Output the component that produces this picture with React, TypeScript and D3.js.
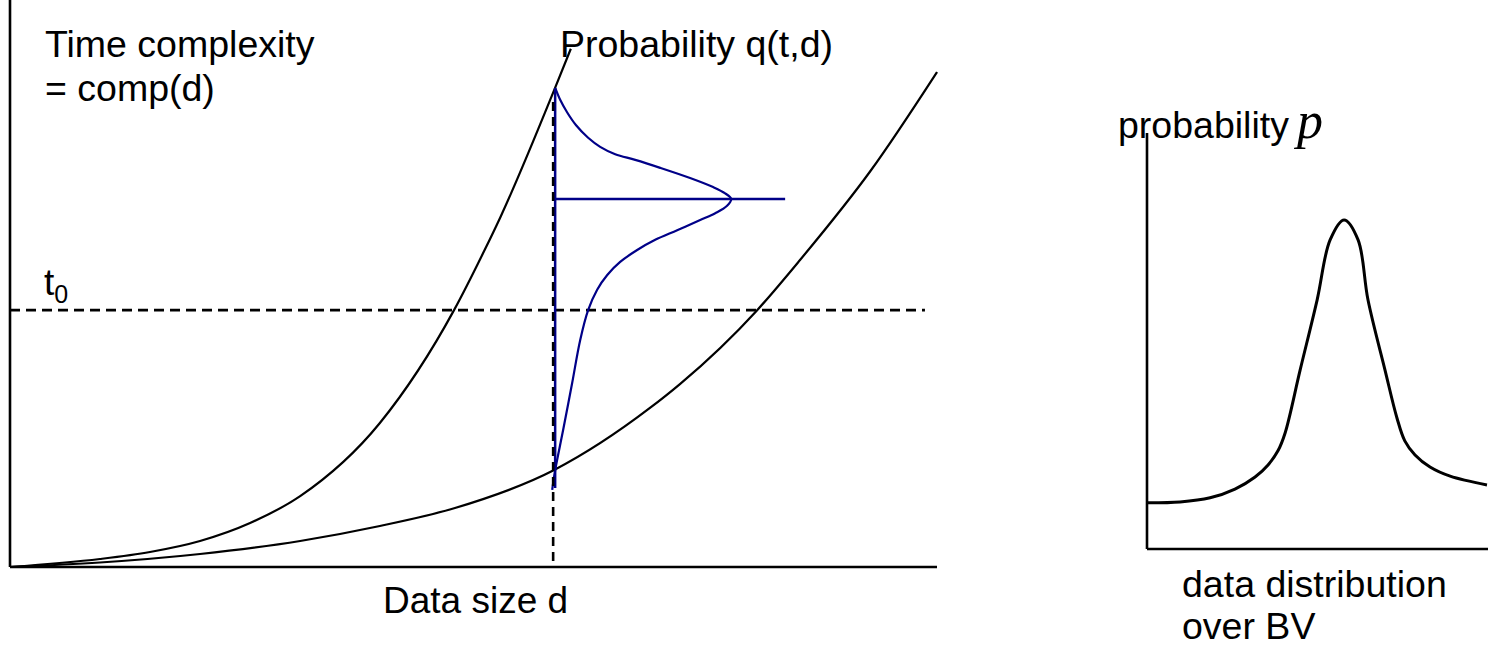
import React from "react";
import * as d3 from "d3";

// ---- Left chart: time complexity vs data size (abstract units 0..100) ----
const steepCurveX = [0, 9.7, 15.1, 20.5, 25.9, 31.3, 39.9, 47.9, 51.2, 52.9, 58.8, 60.5];
const steepCurveY = [0, 1.41, 2.65, 4.59, 7.76, 12.5, 25.4, 45.3, 55.9, 61.7, 84.5, 91.4];

const lowerCurveX = [0, 9.7, 20.5, 31.3, 39.9, 48.0, 58.7, 69.0, 72.3, 80.6, 85.2, 92.8, 100];
const lowerCurveY = [0, 0.79, 2.29, 4.59, 7.23, 10.4, 17.1, 28.0, 32.3, 45.3, 54.1, 69.8, 87.3];

const dValue = 58.7;
const t0Value = 45.3;
const dLineTop = 82;
const t0LineEnd = 98.7;

// probability q(t,d), drawn sideways at d
const qT = [84.5, 82.4, 80.2, 77.9, 75.7, 74.1, 72.8, 71.8, 70.4, 68.6, 67.0, 65.9, 64.9, 63.7, 62.4, 61.2, 59.4, 57.7, 55.9, 53.8, 51.5, 48.9, 45.3, 40.0, 32.5, 24.2, 17.1, 13.6];
const qVal = [0.006, 0.034, 0.073, 0.124, 0.192, 0.26, 0.345, 0.458, 0.599, 0.768, 0.898, 0.966, 1.0, 0.977, 0.910, 0.825, 0.695, 0.571, 0.469, 0.373, 0.300, 0.243, 0.192, 0.147, 0.102, 0.051, 0.006, -0.011];
const qModeT = 64.9;
const qLineEnd = 1.305;

// ---- Right chart: probability p over BV ----
const distX = [0, 9.7, 18.5, 25.8, 31.7, 35.5, 38.4, 40.5, 44.9, 49.9, 53.7, 57.8, 61.9, 64.8, 69.8, 73.3, 75.6, 78.6, 83.0, 88.9, 99.7];
const distY = [11.1, 11.3, 12.3, 14.4, 17.3, 20.2, 23.6, 27.9, 43.0, 59.9, 74.3, 79.1, 74.3, 59.9, 43.0, 31.5, 26.0, 22.6, 19.7, 17.5, 15.4];

const W = 1488;
const H = 646;
const FONT = "'Liberation Sans', Arial, sans-serif";
const BLUE = "#000088";

export default function App() {
  const x = d3.scaleLinear().domain([0, 100]).range([10, 937]);
  const y = d3.scaleLinear().domain([0, 100]).range([567, 0]);
  const q = d3.scaleLinear().domain([0, 1]).range([0, 177]);

  const x2 = d3.scaleLinear().domain([0, 100]).range([1147, 1488]);
  const y2 = d3.scaleLinear().domain([0, 100]).range([549, 133]);

  const fnLine = d3
    .line<[number, number]>()
    .x((p) => p[0])
    .y((p) => p[1])
    .curve(d3.curveMonotoneX);

  const paramLine = d3
    .line<[number, number]>()
    .x((p) => p[0])
    .y((p) => p[1])
    .curve(d3.curveCatmullRom.alpha(0.5));

  const steep = fnLine(steepCurveX.map((v, i) => [x(v), y(steepCurveY[i])]));
  const lower = fnLine(lowerCurveX.map((v, i) => [x(v), y(lowerCurveY[i])]));
  const qPath = paramLine(qT.map((t, i) => [x(dValue) + q(qVal[i]), y(t)]));
  const dist = paramLine(distX.map((v, i) => [x2(v), y2(distY[i])]));

  const xd = x(dValue);

  return (
    <svg
      width={W}
      height={H}
      style={{ position: "absolute", left: 0, top: 0, background: "#fff" }}
      fontFamily={FONT}
    >
      {/* left axes */}
      <line x1={x(0)} y1={y(0)} x2={x(0)} y2={0} stroke="#000" strokeWidth={2.6} />
      <line x1={x(0)} y1={y(0)} x2={x(100)} y2={y(0)} stroke="#000" strokeWidth={2.6} />

      {/* t0 dashed line */}
      <line
        x1={x(0)}
        y1={y(t0Value)}
        x2={x(t0LineEnd)}
        y2={y(t0Value)}
        stroke="#000"
        strokeWidth={2.6}
        strokeDasharray="10 6"
      />

      {/* curves */}
      <path d={steep ?? ""} fill="none" stroke="#000" strokeWidth={2.2} />
      <path d={lower ?? ""} fill="none" stroke="#000" strokeWidth={2.2} />

      {/* blue distribution */}
      <line x1={xd + 1} y1={y(qT[0])} x2={xd + 1} y2={y(qT[qT.length - 1]) - 2} stroke={BLUE} strokeWidth={2.5} />
      <line x1={xd} y1={y(qModeT)} x2={xd + q(qLineEnd)} y2={y(qModeT)} stroke={BLUE} strokeWidth={2.5} />
      <path d={qPath ?? ""} fill="none" stroke={BLUE} strokeWidth={2.2} />

      {/* d dashed vertical */}
      <line
        x1={xd - 1}
        y1={y(dLineTop)}
        x2={xd - 1}
        y2={y(0)}
        stroke="#000"
        strokeWidth={2.6}
        strokeDasharray="9 6"
      />

      {/* left texts */}
      <text x={45} y={57} fontSize={37.5}>Time complexity</text>
      <text x={45} y={101} fontSize={37.5}>= comp(d)</text>
      <text x={560} y={57} fontSize={37.5}>Probability q(t,d)</text>
      <text x={44} y={295} fontSize={37}>
        t<tspan fontSize={25} dy={8}>0</tspan>
      </text>
      <text x={383} y={613} fontSize={37}>Data size d</text>

      {/* right axes */}
      <line x1={x2(0)} y1={y2(0)} x2={x2(0)} y2={y2(100)} stroke="#000" strokeWidth={2.6} />
      <line x1={x2(0)} y1={y2(0)} x2={x2(100)} y2={y2(0)} stroke="#000" strokeWidth={2.6} />
      <path d={dist ?? ""} fill="none" stroke="#000" strokeWidth={3} />

      {/* right texts */}
      <text x={1118} y={138} fontSize={37.5}>
        probability
        <tspan fontFamily="'Liberation Serif', 'Times New Roman', serif" fontStyle="italic" fontSize={52} dx={8}>
          p
        </tspan>
      </text>
      <text x={1182} y={597} fontSize={37.5}>data distribution</text>
      <text x={1182} y={639} fontSize={37.5}>over BV</text>
    </svg>
  );
}
